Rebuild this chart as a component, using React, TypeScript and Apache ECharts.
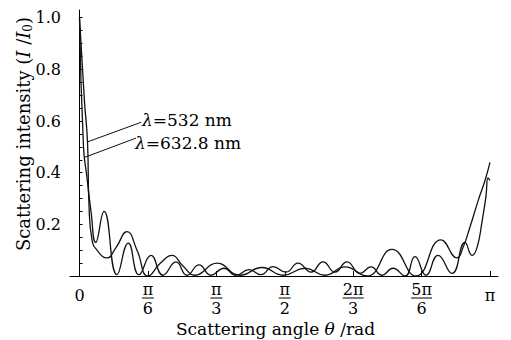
import React, { useEffect, useRef } from "react";
import * as echarts from "echarts";

// ---- tick values / labels ----
const PI = Math.PI;
const X_TICKS = [0, PI / 6, PI / 3, PI / 2, (2 * PI) / 3, (5 * PI) / 6, PI];
const X_TICK_NUM = ["0", "π", "π", "π", "2π", "5π", "π"];
const X_TICK_DEN = ["", "6", "3", "2", "3", "6", ""];
const Y_TICKS = [0.2, 0.4, 0.6, 0.8, 1.0];
const Y_MINOR_TICKS = [0.05, 0.1, 0.15, 0.2, 0.25, 0.3, 0.35, 0.4, 0.45, 0.5, 0.55, 0.6, 0.65, 0.7, 0.75, 0.8, 0.85, 0.9, 0.95, 1.0];

// ---- series: λ = 532 nm (angle in rad, normalised intensity) ----
const ANGLE_532 = [0, 0.0375, 0.0612, 0.0727, 0.0957, 0.1339, 0.2105, 0.2793, 0.3635, 0.4401, 0.5242, 0.6200, 0.7079, 0.7900, 0.8839, 1.0523, 1.2283, 1.3967, 1.5574, 1.7258, 1.8788, 2.0319, 2.2003, 2.3916, 2.5753, 2.7666, 2.8890, 2.9350, 2.9886, 3.0498, 3.1033, 3.1416];
const INT_532 = [1.0, 0.68, 0.52, 0.275, 0.14, 0.10, 0.07, 0.11, 0.172, 0.10, 0.0, 0.05, 0.08, 0.04, 0.003, 0.05, 0.003, 0.033, 0.003, 0.03, 0.003, 0.035, 0.0, 0.103, 0.0, 0.14, 0.07, 0.11, 0.19, 0.29, 0.37, 0.44];

// ---- series: λ = 632.8 nm ----
const ANGLE_633 = [0, 0.0306, 0.0574, 0.0880, 0.1240, 0.1875, 0.2870, 0.3735, 0.4554, 0.5472, 0.6390, 0.7385, 0.8227, 0.9145, 1.0064, 1.1059, 1.1977, 1.2972, 1.3890, 1.4809, 1.5803, 1.6722, 1.7717, 1.8635, 1.9554, 2.0472, 2.1467, 2.2309, 2.3151, 2.3992, 2.4911, 2.5676, 2.6518, 2.7436, 2.8508, 2.9503, 3.0039, 3.0421, 3.0804, 3.1110, 3.1263, 3.1416];
const INT_633 = [1.0, 0.5, 0.38, 0.25, 0.13, 0.25, 0.005, 0.127, 0.005, 0.08, 0.003, 0.055, 0.003, 0.043, 0.003, 0.03, 0.003, 0.025, 0.005, 0.036, 0.015, 0.05, 0.015, 0.055, 0.015, 0.055, 0.01, 0.035, 0.003, 0.03, 0.0, 0.075, 0.003, 0.08, 0.01, 0.13, 0.08, 0.11, 0.21, 0.31, 0.38, 0.37];

// ---- annotation pointer lines (data space): [curve point, text end] ----
const POINTER_532 = [[0.065, 0.52], [0.4707, 0.595]];
const POINTER_633 = [[0.0421, 0.46], [0.4324, 0.534]];

const FONT = "DejaVu Serif";

function zip(xs: number[], ys: number[]) {
  return xs.map((x, i) => [x, ys[i]]);
}

export default function App() {
  const ref = useRef<HTMLDivElement>(null);
  useEffect(() => {
    if (!ref.current) return;
    const chart = echarts.init(ref.current, undefined, { renderer: "svg" });
    const xLabel = (v: number) => {
      const k = Math.round(v / (PI / 6));
      const i = X_TICKS.findIndex((t) => Math.abs(t - v) < 1e-6);
      const idx = i >= 0 ? i : k;
      const num = X_TICK_NUM[idx];
      const den = X_TICK_DEN[idx];
      if (!den) return `{p|${num}}`;
      const bar = num.length > 1 ? "bw" : "bs";
      return `{n|${num}}\n{${bar}| }\n{d|${den}}`;
    };
    const lineStyle = { color: "#111", width: 1.3 };
    chart.setOption({
      animation: false,
      backgroundColor: "#fff",
      grid: { left: 70, right: 13, top: 10, bottom: 64, containLabel: false },
      xAxis: {
        type: "value",
        min: -0.0727,
        max: 3.2028,
        axisLine: { show: true, onZero: true, lineStyle: { color: "#000", width: 1 } },
        axisTick: { show: true, inside: true, length: 5, customValues: X_TICKS, lineStyle: { color: "#000" } },
        axisLabel: {
          show: true,
          customValues: X_TICKS,
          formatter: xLabel,
          margin: 6,
          color: "#000",
          fontFamily: FONT,
          verticalAlign: "top",
          rich: {
            p: { fontFamily: FONT, fontSize: 16, lineHeight: 27, color: "#000" },
            n: { fontFamily: FONT, fontSize: 16, lineHeight: 14, color: "#000" },
            d: { fontFamily: FONT, fontSize: 16, lineHeight: 16, color: "#000" },
            bs: { width: 12, height: 1, lineHeight: 4, fontSize: 1, backgroundColor: "#000" },
            bw: { width: 21, height: 1, lineHeight: 4, fontSize: 1, backgroundColor: "#000" },
          },
        },
        splitLine: { show: false },
      },
      yAxis: {
        type: "value",
        min: 0,
        max: 1.03,
        axisLine: { show: true, onZero: true, lineStyle: { color: "#000", width: 1 } },
        axisTick: { show: true, inside: true, length: 3, customValues: Y_MINOR_TICKS, lineStyle: { color: "#000" } },
        axisLabel: {
          show: true,
          customValues: Y_TICKS,
          formatter: (v: number) => v.toFixed(1),
          margin: 9,
          color: "#000",
          fontFamily: FONT,
          fontSize: 16,
        },
        splitLine: { show: false },
      },
      series: [
        {
          name: "λ=532 nm",
          type: "line",
          data: zip(ANGLE_532, INT_532),
          smooth: 0.5,
          showSymbol: false,
          lineStyle,
          clip: true,
          markLine: {
            silent: true,
            symbol: "none",
            label: { show: false },
            lineStyle: { color: "#111", width: 1, type: "solid" },
            data: [[{ coord: POINTER_532[0] }, { coord: POINTER_532[1] }]],
          },
        },
        {
          name: "λ=632.8 nm",
          type: "line",
          data: zip(ANGLE_633, INT_633),
          smooth: 0.5,
          showSymbol: false,
          lineStyle,
          clip: true,
          markLine: {
            silent: true,
            symbol: "none",
            label: { show: false },
            lineStyle: { color: "#111", width: 1, type: "solid" },
            data: [[{ coord: POINTER_633[0] }, { coord: POINTER_633[1] }]],
          },
        },
      ],
      graphic: [
        {
          type: "text",
          x: 275.5,
          y: 329,
          style: {
            text: "{r|Scattering angle }{i|θ}{r| /rad}",
            align: "center",
            verticalAlign: "middle",
            textAlign: "center",
            textVerticalAlign: "middle",
            fill: "#000",
            rich: {
              r: { fontFamily: FONT, fontSize: 17, fill: "#000" },
              i: { fontFamily: FONT, fontSize: 17, fontStyle: "italic", fill: "#000" },
            },
          },
        },
        {
          type: "text",
          x: 23,
          y: 134,
          rotation: Math.PI / 2,
          style: {
            text: "{r|Scattering intensity (}{i|I}{r| /}{i|I}{s|0}{r|)}",
            align: "center",
            verticalAlign: "middle",
            textAlign: "center",
            textVerticalAlign: "middle",
            fill: "#000",
            rich: {
              r: { fontFamily: FONT, fontSize: 18, lineHeight: 22, fill: "#000" },
              i: { fontFamily: FONT, fontSize: 18, lineHeight: 22, fontStyle: "italic", fill: "#000" },
              s: { fontFamily: FONT, fontSize: 12, lineHeight: 22, verticalAlign: "bottom", fill: "#000" },
            },
          },
        },
        {
          type: "text",
          x: 142,
          y: 120,
          style: {
            text: "{i|λ}{r|=532 nm}",
            align: "left",
            verticalAlign: "middle",
            textAlign: "left",
            textVerticalAlign: "middle",
            fill: "#000",
            rich: {
              r: { fontFamily: FONT, fontSize: 17, fill: "#000" },
              i: { fontFamily: FONT, fontSize: 17, fontStyle: "italic", fill: "#000" },
            },
          },
        },
        {
          type: "text",
          x: 135,
          y: 143,
          style: {
            text: "{i|λ}{r|=632.8 nm}",
            align: "left",
            verticalAlign: "middle",
            textAlign: "left",
            textVerticalAlign: "middle",
            fill: "#000",
            rich: {
              r: { fontFamily: FONT, fontSize: 17, fill: "#000" },
              i: { fontFamily: FONT, fontSize: 17, fontStyle: "italic", fill: "#000" },
            },
          },
        },
      ],
    });
    return () => chart.dispose();
  }, []);
  return <div ref={ref} style={{ width: 511, height: 340, position: "absolute", left: 0, top: 0 }} />;
}
